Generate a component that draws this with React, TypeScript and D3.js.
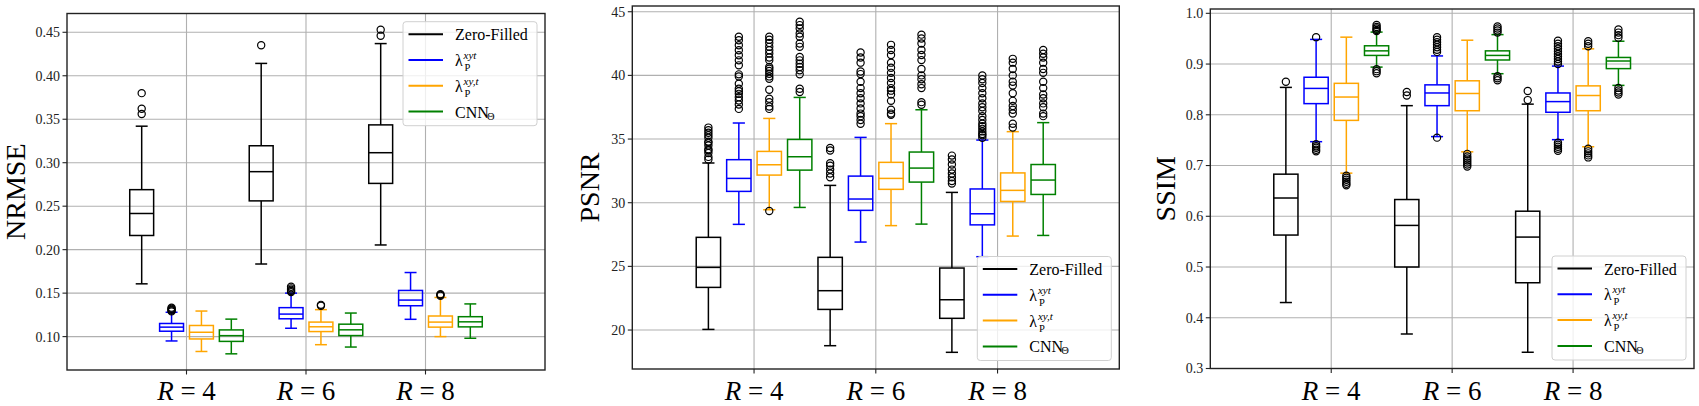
import * as d3 from "d3";
import React from "react";

// acceleration factors (x groups) and methods (series)
const rValues = [4, 6, 8];
const methodNames = ["Zero-Filled", "lambda-xyt", "lambda-xy,t", "CNN"];
const methodColors = ["#000000", "#0000ff", "#ffa500", "#008000"];

// box stats per R: [lower whisker, q1, median, q3, upper whisker]
type Stat = number[];

// ---- NRMSE ----
const nrmseZeroFilled: Stat[] = [
  [0.1607, 0.2163, 0.2416, 0.269, 0.342],
  [0.1835, 0.2561, 0.2897, 0.3195, 0.4142],
  [0.2054, 0.2762, 0.3115, 0.3435, 0.437],
];
const nrmseLambdaXyt: Stat[] = [
  [0.095, 0.1062, 0.1109, 0.1151, 0.128],
  [0.1096, 0.1205, 0.1259, 0.1333, 0.15],
  [0.1199, 0.1355, 0.142, 0.1531, 0.1737],
];
const nrmseLambdaXy_t: Stat[] = [
  [0.0829, 0.0973, 0.105, 0.1128, 0.1294],
  [0.0907, 0.1058, 0.1113, 0.1167, 0.131],
  [0.1, 0.1109, 0.1167, 0.1237, 0.145],
];
const nrmseCnn: Stat[] = [
  [0.0802, 0.0945, 0.1011, 0.1077, 0.1201],
  [0.088, 0.1012, 0.1078, 0.1143, 0.1271],
  [0.0981, 0.1112, 0.117, 0.1229, 0.1376],
];
const nrmseFliers: number[][][] = [
  [[0.38, 0.362, 0.356], [0.435], [0.453, 0.446]],
  [[0.129, 0.13, 0.131, 0.132, 0.1333], [0.1512, 0.1525, 0.154, 0.1555, 0.1574], []],
  [[], [0.1355, 0.1365], [0.147, 0.148, 0.1487]],
  [[], [], []],
];
const nrmseTicks = [0.1, 0.15, 0.2, 0.25, 0.3, 0.35, 0.4, 0.45];

// ---- PSNR ----
const psnrZeroFilled: Stat[] = [
  [20.05, 23.35, 24.92, 27.28, 33.12],
  [18.77, 21.62, 23.09, 25.71, 31.36],
  [18.25, 20.92, 22.38, 24.87, 30.81],
];
const psnrLambdaXyt: Stat[] = [
  [28.3, 30.89, 31.91, 33.38, 36.26],
  [26.91, 29.4, 30.29, 32.09, 35.13],
  [25.76, 28.26, 29.13, 31.08, 34.92],
];
const psnrLambdaXy_t: Stat[] = [
  [29.45, 32.17, 32.98, 34.03, 36.62],
  [28.2, 31.05, 31.91, 33.17, 36.21],
  [27.38, 30.1, 30.97, 32.34, 35.58],
];
const psnrCnn: Stat[] = [
  [29.63, 32.56, 33.61, 34.97, 38.27],
  [28.32, 31.62, 32.72, 33.98, 37.3],
  [27.43, 30.65, 31.78, 33.0, 36.29],
];
const psnrFliers: number[][][] = [
  [
    [33.4, 33.6, 33.9, 34.1, 34.2, 34.5, 34.7, 34.8, 35.1, 35.3, 35.5, 35.7, 35.9],
    [32.0, 32.3, 32.6, 32.9, 33.1, 34.1, 34.3],
    [31.5, 31.7, 32.0, 32.3, 32.6, 33.0, 33.4, 33.7],
  ],
  [
    [37.37, 37.71, 38.03, 38.29, 38.55, 38.76, 38.95, 39.34, 39.92, 40.08, 40.79, 41.18, 41.58, 41.97, 42.37, 42.76, 43.03],
    [36.2, 36.5, 36.8, 37.0, 37.4, 37.8, 38.2, 38.6, 39.0, 39.5, 40.1, 40.3, 41.0, 41.4, 41.8],
    [35.1, 35.3, 35.4, 35.6, 35.8, 36.0, 36.2, 36.5, 36.8, 37.2, 37.5, 37.8, 38.2, 38.6, 39.0, 39.4, 39.7, 40.0],
  ],
  [
    [29.35, 37.37, 37.55, 37.9, 38.16, 38.87, 39.74, 39.92, 40.13, 40.34, 40.53, 40.66, 41.18, 41.4, 41.71, 41.97, 42.24, 42.55, 42.8, 43.03],
    [36.9, 37.0, 37.3, 38.0, 38.5, 38.8, 39.0, 39.4, 39.8, 40.2, 40.6, 41.0, 41.6, 42.0, 42.4],
    [35.9, 36.2, 37.0, 37.3, 37.6, 38.0, 38.6, 39.2, 39.5, 40.0, 40.5, 41.0, 41.3],
  ],
  [
    [38.69, 38.95, 40.08, 40.4, 40.66, 40.92, 41.18, 41.45, 42.24, 42.5, 43.03, 43.29, 43.69, 43.95, 44.21],
    [37.7, 37.9, 39.0, 39.3, 39.7, 40.0, 40.5, 41.2, 41.6, 42.0, 42.5, 42.9, 43.2],
    [36.8, 37.0, 37.5, 37.8, 38.2, 38.5, 39.0, 39.5, 40.2, 40.5, 41.0, 41.4, 41.7, 42.0],
  ],
];
const psnrTicks = [20, 25, 30, 35, 40, 45];

// ---- SSIM ----
const ssimZeroFilled: Stat[] = [
  [0.43, 0.563, 0.636, 0.683, 0.854],
  [0.368, 0.5, 0.582, 0.633, 0.818],
  [0.332, 0.469, 0.559, 0.61, 0.821],
];
const ssimLambdaXyt: Stat[] = [
  [0.747, 0.822, 0.852, 0.874, 0.9486],
  [0.757, 0.818, 0.843, 0.859, 0.916],
  [0.751, 0.805, 0.826, 0.843, 0.896],
];
const ssimLambdaXy_t: Stat[] = [
  [0.685, 0.789, 0.835, 0.862, 0.953],
  [0.727, 0.808, 0.842, 0.867, 0.947],
  [0.737, 0.808, 0.838, 0.857, 0.93],
];
const ssimCnn: Stat[] = [
  [0.894, 0.917, 0.926, 0.936, 0.963],
  [0.881, 0.908, 0.917, 0.926, 0.958],
  [0.858, 0.891, 0.906, 0.913, 0.945],
];
const ssimFliers: number[][][] = [
  [[0.865], [0.838, 0.845], [0.829, 0.847]],
  [
    [0.953, 0.742, 0.738, 0.735, 0.731, 0.728],
    [0.924, 0.928, 0.933, 0.938, 0.943, 0.948, 0.953, 0.755],
    [0.9, 0.905, 0.91, 0.915, 0.92, 0.925, 0.93, 0.935, 0.94, 0.946, 0.745, 0.741, 0.737, 0.733, 0.729],
  ],
  [
    [0.661, 0.664, 0.668, 0.672, 0.676, 0.68],
    [0.698, 0.702, 0.706, 0.71, 0.714, 0.718, 0.723],
    [0.935, 0.94, 0.945, 0.716, 0.72, 0.724, 0.728, 0.733],
  ],
  [
    [0.965, 0.967, 0.97, 0.973, 0.977, 0.882, 0.886, 0.89],
    [0.962, 0.966, 0.97, 0.974, 0.868, 0.872, 0.876],
    [0.952, 0.957, 0.962, 0.968, 0.84, 0.844, 0.848, 0.853],
  ],
];
const ssimTicks = [0.3, 0.4, 0.5, 0.6, 0.7, 0.8, 0.9, 1.0];

const FONT = "'Liberation Serif', 'DejaVu Serif', serif";

type PanelSpec = {
  left: number;
  right: number;
  top: number;
  bottom: number;
  yDomain: [number, number];
  ticks: number[];
  fmt: (v: number) => string;
  label: string;
  labelX: number;
  legendAt: "top" | "bottom";
  stats: Stat[][];
  fliers: number[][][];
};

const panels: PanelSpec[] = [
  {
    left: 67, right: 545, top: 13.5, bottom: 370,
    yDomain: [0.0616, 0.4716], ticks: nrmseTicks, fmt: d3.format(".2f"),
    label: "NRMSE", labelX: 25, legendAt: "top",
    stats: [nrmseZeroFilled, nrmseLambdaXyt, nrmseLambdaXy_t, nrmseCnn], fliers: nrmseFliers,
  },
  {
    left: 632.3, right: 1119.3, top: 6, bottom: 369,
    yDomain: [16.94, 45.45], ticks: psnrTicks, fmt: d3.format("d"),
    label: "PSNR", labelX: 599, legendAt: "bottom",
    stats: [psnrZeroFilled, psnrLambdaXyt, psnrLambdaXy_t, psnrCnn], fliers: psnrFliers,
  },
  {
    left: 1210.3, right: 1694, top: 9, bottom: 368.5,
    yDomain: [0.3, 1.0085], ticks: ssimTicks, fmt: d3.format(".1f"),
    label: "SSIM", labelX: 1174.5, legendAt: "bottom",
    stats: [ssimZeroFilled, ssimLambdaXyt, ssimLambdaXy_t, ssimCnn], fliers: ssimFliers,
  },
];

function LegendLabel({ i, x, cy }: { i: number; x: number; cy: number }) {
  if (i === 0) {
    return <text x={x} y={cy + 6} fontSize={16}>{methodNames[0]}</text>;
  }
  if (i === 3) {
    return (
      <g>
        <text x={x} y={cy + 6} fontSize={16}>CNN</text>
        <text x={x + 32} y={cy + 8} fontSize={10.5}>Θ</text>
      </g>
    );
  }
  const sup = i === 1 ? "xyt" : "xy,t";
  return (
    <g>
      <text x={x} y={cy + 6} fontSize={16}>λ</text>
      <text x={x + 8.6} y={cy - 1} fontSize={11} fontStyle="italic">{sup}</text>
      <text x={x + 9.6} y={cy + 11} fontSize={10.5}>P</text>
    </g>
  );
}

function Panel({ p }: { p: PanelSpec }) {
  const x = d3.scaleLinear().domain([0, rValues.length + 1]).range([p.left, p.right]);
  const y = d3.scaleLinear().domain(p.yDomain).range([p.bottom, p.top]);
  const band = d3.scaleBand<number>().domain(d3.range(methodNames.length)).range([-0.5, 0.5]);
  const boxW = band.bandwidth() * 0.8;
  const capW = boxW / 2;
  const pos = (g: number, m: number) => g + 1 + band(m)! + band.bandwidth() / 2;

  const legW = 134;
  const legH = 104;
  const legX = p.right - 8 - legW;
  const legY = p.legendAt === "top" ? p.top + 8.2 : p.bottom - 8.5 - legH;

  return (
    <g fontFamily={FONT}>
      {/* grid */}
      {p.ticks.map((t) => (
        <line key={"gy" + t} x1={p.left} x2={p.right} y1={y(t)} y2={y(t)} stroke="#b0b0b0" strokeWidth={1.1} />
      ))}
      {rValues.map((r, gi) => (
        <line key={"gx" + r} x1={x(gi + 1)} x2={x(gi + 1)} y1={p.top} y2={p.bottom} stroke="#b0b0b0" strokeWidth={1.1} />
      ))}

      {/* boxes */}
      {p.stats.map((series, m) =>
        series.map((s, g) => {
          const cx = x(pos(g, m));
          const hw = (x(boxW) - x(0)) / 2;
          const hc = (x(capW) - x(0)) / 2;
          const c = methodColors[m];
          return (
            <g key={`b${m}-${g}`} stroke={c} strokeWidth={1.5} fill="none">
              <line x1={cx} x2={cx} y1={y(s[0])} y2={y(s[1])} />
              <line x1={cx} x2={cx} y1={y(s[3])} y2={y(s[4])} />
              <line x1={cx - hc} x2={cx + hc} y1={y(s[0])} y2={y(s[0])} />
              <line x1={cx - hc} x2={cx + hc} y1={y(s[4])} y2={y(s[4])} />
              <rect x={cx - hw} y={y(s[3])} width={hw * 2} height={y(s[1]) - y(s[3])} />
              <line x1={cx - hw} x2={cx + hw} y1={y(s[2])} y2={y(s[2])} />
            </g>
          );
        })
      )}

      {/* outliers */}
      {p.fliers.map((series, m) =>
        series.map((vals, g) =>
          vals.map((v, k) => (
            <circle key={`f${m}-${g}-${k}`} cx={x(pos(g, m))} cy={y(v)} r={3.6} fill="none" stroke="#000" strokeWidth={1.2} />
          ))
        )
      )}

      {/* frame */}
      <rect x={p.left} y={p.top} width={p.right - p.left} height={p.bottom - p.top} fill="none" stroke="#222" strokeWidth={1.4} />

      {/* y axis */}
      {p.ticks.map((t) => (
        <g key={"ty" + t}>
          <line x1={p.left - 4.5} x2={p.left} y1={y(t)} y2={y(t)} stroke="#222" strokeWidth={1.1} />
          <text x={p.left - 7} y={y(t)} dy="0.35em" textAnchor="end" fontSize={14} fill="#222">
            {p.fmt(t)}
          </text>
        </g>
      ))}
      <text
        transform={`translate(${p.labelX},${(p.top + p.bottom) / 2}) rotate(-90)`}
        textAnchor="middle"
        fontSize={28}
      >
        {p.label}
      </text>

      {/* x axis */}
      {rValues.map((r, gi) => (
        <g key={"tx" + r}>
          <line x1={x(gi + 1)} x2={x(gi + 1)} y1={p.bottom} y2={p.bottom + 4.5} stroke="#222" strokeWidth={1.1} />
          <text x={x(gi + 1)} y={399.5} textAnchor="middle" fontSize={27}>
            <tspan fontStyle="italic">R</tspan>
            <tspan>{` = ${r}`}</tspan>
          </text>
        </g>
      ))}

      {/* legend */}
      <rect x={legX} y={legY} width={legW} height={legH} rx={3} fill="#fff" fillOpacity={0.8} stroke="#d0d0d0" strokeWidth={1} />
      {methodNames.map((name, i) => {
        const cy = legY + 12.5 + i * 25.8;
        return (
          <g key={name}>
            <line x1={legX + 5.5} x2={legX + 40} y1={cy} y2={cy} stroke={methodColors[i]} strokeWidth={2} />
            <LegendLabel i={i} x={legX + 52} cy={cy} />
          </g>
        );
      })}
    </g>
  );
}

export default function App() {
  return (
    <div style={{ position: "absolute", left: 0, top: 0, background: "#fff" }}>
      <svg width={1699} height={406} style={{ display: "block" }}>
        <rect width={1699} height={406} fill="#fff" />
        {panels.map((p) => (
          <Panel key={p.label} p={p} />
        ))}
      </svg>
    </div>
  );
}
